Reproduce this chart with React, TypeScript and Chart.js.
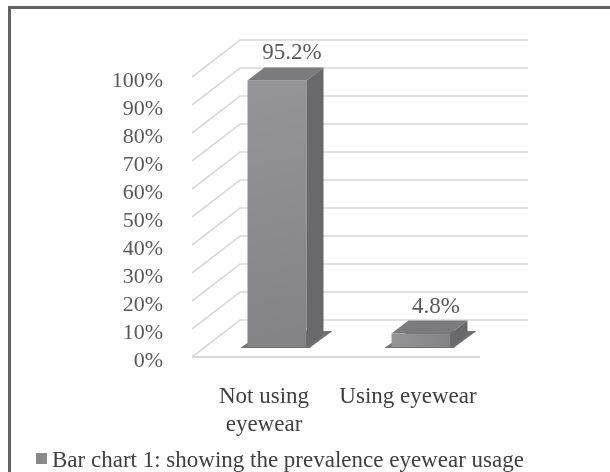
import React, { useEffect, useRef } from "react";
import { Chart, registerables } from "chart.js";

Chart.register(...registerables);

const categories: (string | string[])[] = [["Not using", "eyewear"], "Using eyewear"];
const values: number[] = [95.2, 4.8];
const valueLabels: string[] = ["95.2%", "4.8%"];
const yMin = 0;
const yMax = 100;
const yStep = 10;
const legendLabel = "Bar chart 1: showing the prevalence eyewear usage";

const FONT = "'Liberation Serif', 'Times New Roman', serif";
const DEPTH_X = 48;
const DEPTH_Y = -37;
const BAR_OFF_X = 13;
const BAR_OFF_Y = -10;
const BAR_DX = 17;
const BAR_DY = -13;

const threeD = {
  id: "threeD",
  beforeDatasetsDraw(chart: any) {
    const { ctx, chartArea, scales } = chart;
    const ys = scales.y;
    ctx.save();
    ctx.strokeStyle = "#d9d9d9";
    ctx.lineWidth = 1.6;
    ys.ticks.forEach((t: any) => {
      const yf = ys.getPixelForValue(t.value);
      ctx.beginPath();
      ctx.moveTo(chartArea.left, yf);
      ctx.lineTo(chartArea.left + DEPTH_X, yf + DEPTH_Y);
      ctx.lineTo(chartArea.right + DEPTH_X, yf + DEPTH_Y);
      ctx.stroke();
    });
    const y0 = ys.getPixelForValue(yMin);
    ctx.lineWidth = 2;
    ctx.beginPath();
    ctx.moveTo(chartArea.left, y0);
    ctx.lineTo(chartArea.right, y0);
    ctx.stroke();
    ctx.restore();
  },
  afterDatasetsDraw(chart: any) {
    const { ctx } = chart;
    const meta = chart.getDatasetMeta(0);
    ctx.save();
    meta.data.forEach((bar: any, i: number) => {
      const w = bar.width;
      const x0 = bar.x - w / 2 + BAR_OFF_X;
      const x1 = bar.x + w / 2 + BAR_OFF_X;
      const yt = bar.y + BAR_OFF_Y;
      const yb = bar.base + BAR_OFF_Y;
      // shadow
      ctx.fillStyle = "#717173";
      ctx.beginPath();
      ctx.moveTo(x0 - 7, yb + 1);
      ctx.lineTo(x1 + 3, yb + 1);
      ctx.lineTo(x1 + BAR_DX + 9, yb + BAR_DY - 3);
      ctx.lineTo(x0 + BAR_DX, yb + BAR_DY - 3);
      ctx.closePath();
      ctx.fill();
      // front
      const g = ctx.createLinearGradient(x0, yt, x1, yb);
      g.addColorStop(0, "#959597");
      g.addColorStop(1, "#838386");
      ctx.fillStyle = g;
      ctx.fillRect(x0, yt, x1 - x0, yb - yt);
      // top
      ctx.fillStyle = "#7b7b7e";
      ctx.beginPath();
      ctx.moveTo(x0, yt);
      ctx.lineTo(x1, yt);
      ctx.lineTo(x1 + BAR_DX, yt + BAR_DY);
      ctx.lineTo(x0 + BAR_DX, yt + BAR_DY);
      ctx.closePath();
      ctx.fill();
      // side
      ctx.fillStyle = "#69696c";
      ctx.beginPath();
      ctx.moveTo(x1, yt);
      ctx.lineTo(x1 + BAR_DX, yt + BAR_DY);
      ctx.lineTo(x1 + BAR_DX, yb + BAR_DY);
      ctx.lineTo(x1, yb);
      ctx.closePath();
      ctx.fill();
      // label
      ctx.fillStyle = "#595959";
      ctx.font = `23px ${FONT}`;
      ctx.textAlign = "center";
      ctx.textBaseline = "middle";
      ctx.fillText(valueLabels[i], bar.x + BAR_OFF_X + BAR_DX - 2, yt + BAR_DY - 14);
    });
    // legend
    ctx.fillStyle = "#8a8a8c";
    ctx.fillRect(36, 453, 11, 11);
    ctx.fillStyle = "#404040";
    ctx.font = `23px ${FONT}`;
    ctx.textAlign = "left";
    ctx.textBaseline = "alphabetic";
    ctx.fillText(legendLabel, 52, 467);
    ctx.restore();
  },
};

export default function App() {
  const ref = useRef<HTMLCanvasElement>(null);
  useEffect(() => {
    if (!ref.current) return;
    const chart = new Chart(ref.current, {
      type: "bar",
      data: {
        labels: categories as any,
        datasets: [
          {
            label: legendLabel,
            data: values,
            backgroundColor: "rgba(0,0,0,0)",
            borderWidth: 0,
            barPercentage: 0.41,
            categoryPercentage: 1,
          },
        ],
      },
      options: {
        animation: false,
        responsive: true,
        maintainAspectRatio: false,
        layout: { padding: { left: 0, right: 130, top: 77, bottom: 0 } },
        plugins: { legend: { display: false }, tooltip: { enabled: false } },
        scales: {
          x: {
            grid: { display: false, drawTicks: false },
            border: { display: false },
            ticks: {
              padding: 26,
              color: "#404040",
              font: { family: FONT, size: 23, lineHeight: 1.22 },
              maxRotation: 0,
              autoSkip: false,
            },
            afterFit: (s: any) => {
              s.height = 115;
            },
          },
          y: {
            min: yMin,
            max: yMax,
            grid: { display: false, drawTicks: false },
            border: { display: false },
            ticks: {
              stepSize: yStep,
              autoSkip: false,
              padding: 29,
              labelOffset: 4,
              color: "#595959",
              font: { family: FONT, size: 22 },
              callback: (v: any) => `${v}%`,
            },
            afterFit: (s: any) => {
              s.width = 192;
            },
          },
        },
      },
      plugins: [threeD],
    });
    return () => chart.destroy();
  }, []);
  return (
    <div
      style={{
        position: "absolute",
        left: 0,
        top: 0,
        width: 610,
        height: 472,
        overflow: "hidden",
        background: "#fff",
      }}
    >
      <div
        style={{
          position: "absolute",
          left: 8,
          top: 6,
          width: 700,
          height: 600,
          border: "3px solid #626262",
          boxSizing: "border-box",
        }}
      />
      <canvas ref={ref} style={{ position: "absolute", left: 0, top: 0 }} />
    </div>
  );
}
